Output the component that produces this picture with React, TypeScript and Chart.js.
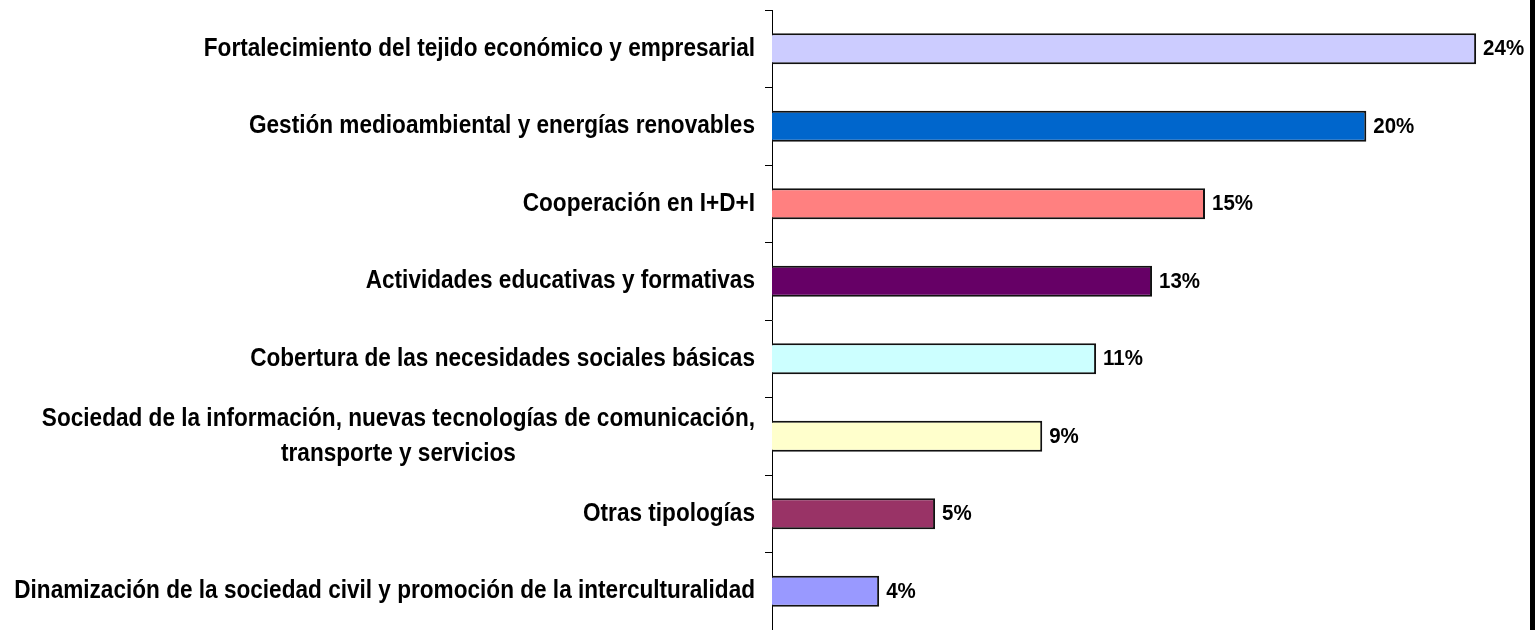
import React, { useEffect, useRef } from "react";
import { Chart, registerables } from "chart.js";

Chart.register(...registerables);

const categories: (string | string[])[] = [
  "Fortalecimiento del tejido económico y empresarial",
  "Gestión medioambiental y energías renovables",
  "Cooperación en I+D+I",
  "Actividades educativas y formativas",
  "Cobertura de las necesidades sociales básicas",
  ["Sociedad de la información, nuevas tecnologías de comunicación,", "transporte y servicios"],
  "Otras tipologías",
  "Dinamización de la sociedad civil y promoción de la interculturalidad",
];

const values = [23.66, 19.97, 14.55, 12.77, 10.89, 9.08, 5.48, 3.6];

const barColors = ["#CCCCFF", "#0066CC", "#FF8080", "#660066", "#CCFFFF", "#FFFFCC", "#993366", "#9999FF"];

const FONT = '"Liberation Sans", Arial, Helvetica, sans-serif';

const labelPlugin = {
  id: "customLabels",
  afterDraw(chart: any) {
    const ctx = chart.ctx as CanvasRenderingContext2D;
    const yScale = chart.scales.y;
    const meta = chart.getDatasetMeta(0);
    ctx.save();
    ctx.fillStyle = "#000";
    ctx.textBaseline = "middle";
    ctx.font = "bold 22.6px " + FONT;
    categories.forEach((cat, i) => {
      const lines = Array.isArray(cat) ? cat : [cat];
      const cy = yScale.getPixelForValue(i);
      const maxW = Math.max(...lines.map((l) => ctx.measureText(l).width));
      const right = yScale.right - 17;
      const center = right - maxW / 2;
      lines.forEach((l, j) => {
        const ly = cy + (j - (lines.length - 1) / 2) * 35;
        ctx.save();
        ctx.translate(center, ly);
        ctx.scale(1, 1.1);
        ctx.textAlign = "center";
        ctx.fillText(l, 0, 0);
        ctx.restore();
      });
    });
    ctx.font = "bold 20.5px " + FONT;
    meta.data.forEach((bar: any, i: number) => {
      ctx.save();
      ctx.translate(bar.x + 7, bar.y);
      ctx.scale(1, 1.12);
      ctx.textAlign = "left";
      ctx.fillText(Math.round(values[i]) + "%", 0, 0);
      ctx.restore();
    });
    ctx.fillRect(chart.width - 7, 0, 5, chart.height);
    ctx.restore();
  },
};

export default function App() {
  const ref = useRef<HTMLCanvasElement | null>(null);
  useEffect(() => {
    if (!ref.current) return;
    const chart = new Chart(ref.current, {
      type: "bar",
      data: {
        labels: categories as any,
        datasets: [
          {
            data: values,
            backgroundColor: barColors,
            borderColor: "#111",
            borderWidth: 2,
            barPercentage: 0.4,
            categoryPercentage: 1,
          },
        ],
      },
      options: {
        indexAxis: "y",
        animation: false,
        responsive: true,
        maintainAspectRatio: false,
        layout: { padding: { top: 10, right: 21, bottom: 0, left: 0 } },
        plugins: { legend: { display: false }, tooltip: { enabled: false } },
        scales: {
          x: { display: false, min: 0, max: 25 },
          y: {
            type: "category",
            afterFit(scale: any) {
              scale.width = 772;
            },
            grid: {
              display: true,
              drawOnChartArea: false,
              drawTicks: true,
              tickLength: 7,
              color: "#000",
              offset: true,
            },
            border: { display: true, color: "#000", width: 1 },
            ticks: { display: false },
          },
        },
      },
      plugins: [labelPlugin],
    });
    return () => chart.destroy();
  }, []);
  return (
    <div style={{ position: "fixed", left: 0, top: 0, width: 1537, height: 630, background: "#fff" }}>
      <canvas ref={ref} />
    </div>
  );
}
